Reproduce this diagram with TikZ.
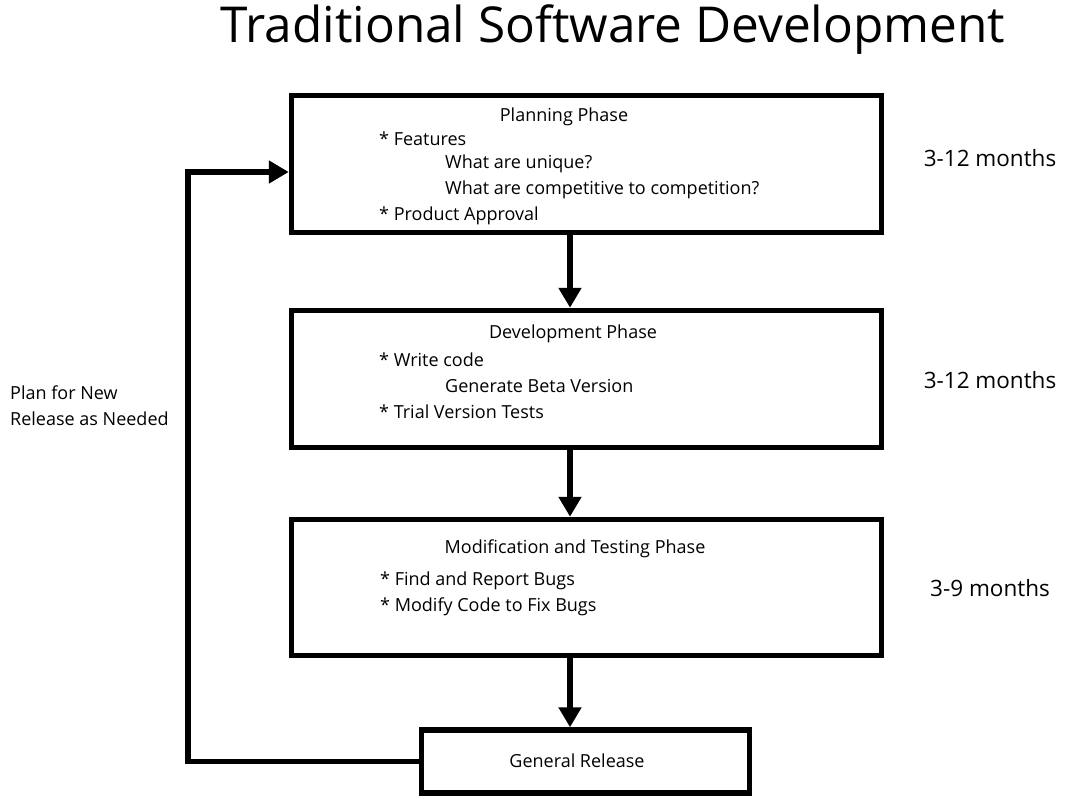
\documentclass[tikz,border=0pt]{standalone}
\usepackage{fontspec}
\setmainfont{Open Sans}
\usetikzlibrary{arrows.meta}
\begin{document}
\begin{tikzpicture}[x=1pt,y=-1pt,
  box/.style={draw=black,line width=5.5pt,fill=white,inner sep=0pt},
  arr/.style={line width=5.5pt,-{Triangle[length=20pt,width=22pt]}},
  txt/.style={font=\fontsize{18}{26}\selectfont,inner sep=0pt,anchor=west},
  ctxt/.style={font=\fontsize{18}{20}\selectfont,inner sep=0pt},
  dur/.style={font=\fontsize{22.5}{26}\selectfont,inner sep=0pt}]
\useasboundingbox (0,0) rectangle (1070,798);
\fill[white] (0,0) rectangle (1070,798);
\node[font=\fontsize{49.5}{54}\selectfont,inner sep=0pt] (title) at (613,30) {Traditional Software Development};
% boxes
\node[box,minimum width=590pt,minimum height=137pt] (plan) at (586.5,164) {};
\node[box,minimum width=590pt,minimum height=137pt] (dev) at (586.5,379) {};
\node[box,minimum width=590pt,minimum height=136pt] (mod) at (586.5,587.5) {};
\node[box,minimum width=328pt,minimum height=63pt] (rel) at (585.5,761.5) {};
% planning text
\node[ctxt] (pt) at (564,117) {Planning Phase};
\node[txt] (p1) at (379,139) {* Features};
\node[txt] (p2) at (445,164) {What are unique?};
\node[txt] (p3) at (445,190) {What are competitive to competition?};
\node[txt] (p4) at (379,216) {* Product Approval};
% development text
\node[ctxt] (dt) at (573,334) {Development Phase};
\node[txt] (d1) at (379,360) {* Write code};
\node[txt] (d2) at (445,386) {Generate Beta Version};
\node[txt] (d3) at (379,412) {* Trial Version Tests};
% modification text
\node[ctxt] (mt) at (575,549) {Modification and Testing Phase};
\node[txt] (m1) at (380,581) {* Find and Report Bugs};
\node[txt] (m2) at (380,607) {* Modify Code to Fix Bugs};
% release text
\node[ctxt] (rt) at (577,761) {General Release};
% durations
\node[dur] (t1) at (990,158) {3-12 months};
\node[dur] (t2) at (990,380) {3-12 months};
\node[dur] (t3) at (990,588) {3-9 months};
% loop label
\node[txt,align=left] (loop) at (10,406) {Plan for New\\Release as Needed};
% connectors
\coordinate (ax) at (570,0);
\coordinate (lx) at (188,0);
\coordinate (ly) at (0,172);
\draw[arr] (plan.south -| ax) -- (dev.north -| ax);
\draw[arr] (dev.south -| ax) -- (mod.north -| ax);
\draw[arr] (mod.south -| ax) -- (rel.north -| ax);
\draw[arr,line join=miter] (rel.west) -| (lx |- ly) -- (plan.west |- ly);
\end{tikzpicture}
\end{document}
